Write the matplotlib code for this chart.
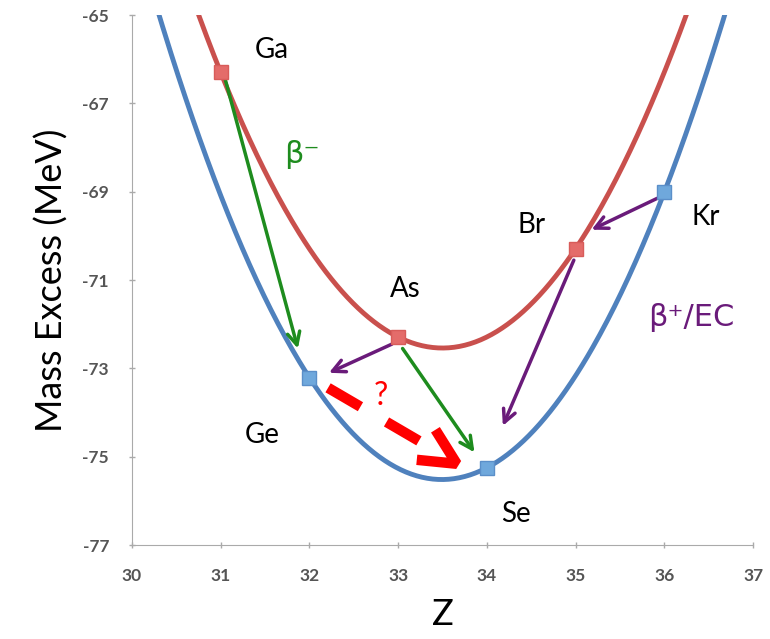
import numpy as np
import matplotlib.pyplot as plt

plt.rcParams['font.family'] = ['Lato', 'DejaVu Sans']
plt.rcParams['axes.unicode_minus'] = False

# A = 76 isobars: proton number and mass excess (MeV)
odd_names = ['Ga', 'As', 'Br']
odd_z = [31, 33, 35]
odd_me = [-66.30, -72.29, -70.29]

even_names = ['Ge', 'Se', 'Kr']
even_z = [32, 34, 36]
even_me = [-73.21, -75.25, -69.01]

x_ticks = [30, 31, 32, 33, 34, 35, 36, 37]
y_ticks = [-77, -75, -73, -71, -69, -67, -65]

red_line = '#C9504D'
red_mark = '#E46C6A'
blue_line = '#4F81BD'
blue_mark = '#6FA8DC'
green = '#1E8C1E'
purple = '#6A1B7A'

fig = plt.figure(figsize=(7.7, 6.39), dpi=100)
ax = fig.add_axes([0.1714, 0.147, 0.8066, 0.8295])

# quadratic trend through each set of isobars
zz = np.linspace(29.5, 37.5, 400)
odd_fit = np.polyval(np.polyfit(odd_z, odd_me, 2), zz)
even_fit = np.polyval(np.polyfit(even_z, even_me, 2), zz)
ax.plot(zz, even_fit, color=blue_line, lw=3.5, zorder=2)
ax.plot(zz, odd_fit, color=red_line, lw=3.5, zorder=2)
ax.plot(even_z, even_me, 's', color=blue_mark, ms=10, mec='#5B8FC9', zorder=4)
ax.plot(odd_z, odd_me, 's', color=red_mark, ms=10, mec='#D85C5A', zorder=4)


def arrow(x0, y0, x1, y1, color):
    ax.annotate('', xy=(x1, y1), xytext=(x0, y0),
                arrowprops=dict(arrowstyle='->,head_length=0.9,head_width=0.45',
                                color=color, lw=2.5, shrinkA=0, shrinkB=0),
                zorder=3)


# beta-minus decays
arrow(31.05, -66.45, 31.87, -72.55, green)
arrow(33.05, -72.55, 33.86, -74.9, green)
# beta-plus / electron capture
arrow(32.93, -72.45, 32.22, -73.1, purple)
arrow(35.92, -69.15, 35.18, -69.86, purple)
arrow(34.98, -70.55, 34.18, -74.3, purple)

# double beta decay Ge -> Se: two dashes and an open chevron head
ax.plot([32.21, 33.25], [-73.44, -74.66], color='#FF0000', lw=7.5,
        dashes=(3.6, 2.9), solid_capstyle='butt', dash_capstyle='butt', zorder=3)
ax.plot([33.42, 33.66, 33.21], [-74.39, -75.16, -75.07], color='#FF0000',
        lw=7.5, solid_capstyle='butt', solid_joinstyle='bevel', zorder=3)
ax.text(32.8, -73.62, '?', color='#FF0000', fontsize=23, ha='center', va='center')

txt = dict(fontsize=20, ha='center', va='center')
ax.text(31.58, -65.8, 'Ga', **txt)
ax.text(33.08, -71.2, 'As', **txt)
ax.text(34.5, -69.75, 'Br', **txt)
ax.text(31.47, -74.5, 'Ge', **txt)
ax.text(34.33, -76.3, 'Se', **txt)
ax.text(36.47, -69.57, 'Kr', **txt)
ax.text(31.92, -68.15, 'β⁻', color=green, fontsize=22, ha='center', va='center',
        family=['DejaVu Sans'])
ax.text(36.3, -71.85, 'β⁺/EC', color=purple, fontsize=22, ha='center', va='center',
        family=['DejaVu Sans'])

ax.set_xlim(30, 37)
ax.set_ylim(-77, -65)
ax.set_xticks(x_ticks)
ax.set_yticks(y_ticks)
ax.tick_params(colors='#AAAAAA', labelcolor='#555555', labelsize=12.5,
               length=5, width=1, direction='inout')
ax.tick_params(axis='x', pad=14)
ax.tick_params(axis='y', pad=14)
for lab in ax.get_xticklabels() + ax.get_yticklabels():
    lab.set_fontweight('bold')
for s in ['top', 'right']:
    ax.spines[s].set_visible(False)
for s in ['left', 'bottom']:
    ax.spines[s].set_color('#AAAAAA')

ax.set_xlabel('Z', fontsize=26, labelpad=10)
ax.set_ylabel('Mass Excess (MeV)', fontsize=26, labelpad=10)

fig.savefig('out.png', dpi=100)
